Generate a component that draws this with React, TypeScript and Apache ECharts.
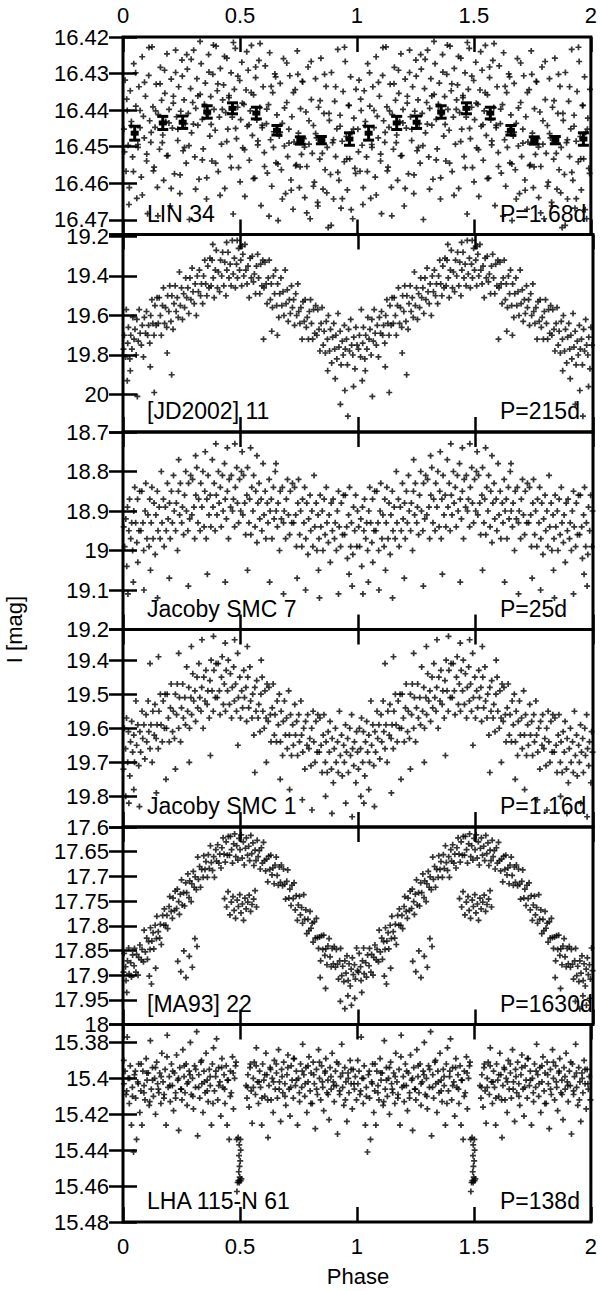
import React, { useEffect, useRef } from 'react';
import * as echarts from 'echarts';

const FONT = '"Liberation Sans", Arial, Helvetica, sans-serif';

const starNames = ['LIN 34', '[JD2002] 11', 'Jacoby SMC 7', 'Jacoby SMC 1', '[MA93] 22', 'LHA 115-N 61'];
const periods = ['P=1.68d', 'P=215d', 'P=25d', 'P=1.16d', 'P=1630d', 'P=138d'];
const magMin = [16.42, 19.19, 18.7, 19.31, 17.6, 15.37];
const magMax = [16.474, 20.19, 19.2, 19.89, 18.0, 15.48];
const magInterval: (number | null)[] = [0.01, null, 0.1, null, 0.05, null];
const magSplit = [5, 5, 5, 6, 8, 5];
const showMinLabel = [true, false, true, false, true, false];
const showMaxLabel = [false, false, true, false, true, true];
const phaseTicks = [0, 0.5, 1, 1.5, 2];

// LIN 34 (phase, I mag) for one cycle
const lin34: [number, number][] = [
[0.004,16.4452],[0.009,16.4318],[0.013,16.4567],[0.018,16.4401],[0.022,16.4496],[0.027,16.4612],[0.031,16.4347],[0.036,16.4431],[0.041,16.4528],[0.046,16.4273],
[0.050,16.4465],[0.055,16.4389],[0.059,16.4641],[0.064,16.4502],[0.068,16.4336],[0.073,16.4448],[0.078,16.4583],[0.082,16.4254],[0.087,16.4417],[0.091,16.4476],
[0.096,16.4362],[0.101,16.4539],[0.105,16.4683],[0.110,16.4305],[0.114,16.4429],[0.119,16.4488],[0.124,16.4227],[0.128,16.4391],[0.133,16.4556],[0.137,16.4447],
[0.142,16.4329],[0.147,16.4611],[0.151,16.4412],[0.156,16.4507],[0.160,16.4283],[0.165,16.4373],[0.170,16.4468],[0.174,16.4592],[0.179,16.4354],[0.183,16.4431],
[0.188,16.4246],[0.192,16.4524],[0.197,16.4398],[0.202,16.4662],[0.206,16.4315],[0.211,16.4449],[0.215,16.4381],[0.220,16.4574],[0.225,16.4297],[0.229,16.4418],
[0.234,16.4483],[0.238,16.4336],[0.243,16.4628],[0.247,16.4403],[0.252,16.4263],[0.257,16.4511],[0.261,16.4372],[0.266,16.4437],[0.270,16.4545],[0.275,16.4288],
[0.279,16.4409],[0.284,16.4699],[0.289,16.4341],[0.293,16.4462],[0.298,16.4379],[0.302,16.4236],[0.307,16.4528],[0.311,16.4395],[0.316,16.4314],[0.320,16.4441],
[0.325,16.4589],[0.330,16.4357],[0.334,16.4273],[0.339,16.4425],[0.343,16.4506],[0.348,16.4384],[0.352,16.4326],[0.357,16.4643],[0.362,16.4412],[0.366,16.4248],
[0.371,16.4471],[0.375,16.4363],[0.380,16.4539],[0.384,16.4302],[0.389,16.4398],[0.394,16.4455],[0.398,16.4225],[0.403,16.4347],[0.407,16.4568],[0.412,16.4419],
[0.416,16.4286],[0.421,16.4493],[0.426,16.4372],[0.430,16.4331],[0.435,16.4614],[0.439,16.4407],[0.444,16.4258],[0.448,16.4452],[0.453,16.4366],[0.458,16.4527],
[0.462,16.4298],[0.467,16.4419],[0.471,16.4684],[0.476,16.4343],[0.480,16.4231],[0.485,16.4478],[0.490,16.4392],[0.494,16.4557],[0.499,16.4319],[0.503,16.4426],
[0.508,16.4269],[0.512,16.4503],[0.517,16.4384],[0.521,16.4636],[0.526,16.4345],[0.531,16.4444],[0.535,16.4291],[0.540,16.4537],[0.544,16.4402],[0.549,16.4223],
[0.553,16.4469],[0.558,16.4358],[0.563,16.4586],[0.567,16.4311],[0.572,16.4427],[0.576,16.4495],[0.581,16.4264],[0.585,16.4393],[0.590,16.4661],[0.595,16.4448],
[0.599,16.4336],[0.604,16.4516],[0.608,16.4279],[0.613,16.4437],[0.617,16.4572],[0.622,16.4385],[0.627,16.4243],[0.631,16.4481],[0.636,16.4608],[0.640,16.4352],
[0.645,16.4459],[0.649,16.4301],[0.654,16.4544],[0.658,16.4413],[0.663,16.4702],[0.668,16.4471],[0.672,16.4327],[0.677,16.4563],[0.681,16.4436],[0.686,16.4259],
[0.690,16.4498],[0.695,16.4628],[0.700,16.4379],[0.704,16.4527],[0.709,16.4452],[0.713,16.4306],[0.718,16.4591],[0.722,16.4418],[0.727,16.4671],[0.731,16.4487],
[0.736,16.4344],[0.741,16.4549],[0.745,16.4238],[0.750,16.4463],[0.754,16.4612],[0.759,16.4396],[0.763,16.4521],[0.768,16.4323],[0.773,16.4478],[0.777,16.4639],
[0.782,16.4405],[0.786,16.4554],[0.791,16.4282],[0.795,16.4493],[0.800,16.4697],[0.805,16.4371],[0.809,16.4518],[0.814,16.4442],[0.818,16.4597],[0.823,16.4314],
[0.827,16.4476],[0.832,16.4652],[0.836,16.4392],[0.841,16.4534],[0.846,16.4258],[0.850,16.4487],[0.855,16.4616],[0.859,16.4409],[0.864,16.4563],[0.868,16.4335],
[0.873,16.4502],[0.877,16.4721],[0.882,16.4428],[0.887,16.4576],[0.891,16.4297],[0.896,16.4489],[0.900,16.4643],[0.905,16.4376],[0.909,16.4527],[0.914,16.4451],
[0.918,16.4234],[0.923,16.4592],[0.928,16.4414],[0.932,16.4668],[0.937,16.4485],[0.941,16.4349],[0.946,16.4541],[0.950,16.4267],[0.955,16.4472],[0.959,16.4618],
[0.964,16.4387],[0.969,16.4533],[0.973,16.4309],[0.978,16.4461],[0.982,16.4697],[0.987,16.4422],[0.991,16.4559],[0.996,16.4343],
[0.0065,16.4514],[0.0160,16.4370],[0.0255,16.4658],[0.0350,16.4442],[0.0445,16.4568],[0.0540,16.4298],[0.0635,16.4494],[0.0730,16.4401],[0.0825,16.4632],[0.0920,16.4324],
[0.1015,16.4520],[0.1110,16.4229],[0.1205,16.4461],[0.1300,16.4566],[0.1395,16.4402],[0.1490,16.4689],[0.1585,16.4328],[0.1680,16.4489],[0.1775,16.4291],[0.1870,16.4525],
[0.1965,16.4435],[0.2060,16.4614],[0.2155,16.4362],[0.2250,16.4236],[0.2345,16.4452],[0.2440,16.4577],[0.2535,16.4307],[0.2630,16.4502],[0.2725,16.4248],[0.2820,16.4497],
[0.2915,16.4261],[0.3010,16.4438],[0.3105,16.4616],[0.3200,16.4361],[0.3295,16.4212],[0.3390,16.4536],[0.3485,16.4390],[0.3580,16.4585],[0.3675,16.4296],[0.3770,16.4439],
[0.3865,16.4222],[0.3960,16.4545],[0.4055,16.4328],[0.4150,16.4633],[0.4245,16.4398],[0.4340,16.4253],[0.4435,16.4486],[0.4530,16.4360],[0.4625,16.4557],[0.4720,16.4215],
[0.4815,16.4450],[0.4910,16.4307],[0.5005,16.4596],[0.5100,16.4381],[0.5195,16.4508],[0.5290,16.4240],[0.5385,16.4440],[0.5480,16.4352],[0.5575,16.4587],[0.5670,16.4282],
[0.5765,16.4484],[0.5860,16.4218],[0.5955,16.4441],[0.6050,16.4554],[0.6145,16.4397],[0.6240,16.4690],[0.6335,16.4335],[0.6430,16.4502],[0.6525,16.4309],[0.6620,16.4547],
[0.6715,16.4460],[0.6810,16.4643],[0.6905,16.4394],[0.7000,16.4271],[0.7095,16.4490],[0.7190,16.4619],[0.7285,16.4352],[0.7380,16.4552],[0.7475,16.4302],[0.7570,16.4555],
[0.7665,16.4321],[0.7760,16.4501],[0.7855,16.4681],[0.7950,16.4429],[0.8045,16.4267],[0.8140,16.4608],[0.8235,16.4464],[0.8330,16.4662],[0.8425,16.4374],[0.8520,16.4518],
[0.8615,16.4302],[0.8710,16.4626],[0.8805,16.4409],[0.8900,16.4715],[0.8995,16.4481],[0.9090,16.4336],[0.9185,16.4570],[0.9280,16.4444],[0.9375,16.4642],[0.9470,16.4228],
[0.9565,16.4533],[0.9660,16.4387],[0.9755,16.4672],[0.9850,16.4452],[0.9945,16.4573]
];

// LIN 34 binned means: phase, mean mag, error
const lin34BinPhase = [0.05, 0.17, 0.255, 0.36, 0.468, 0.57, 0.658, 0.758, 0.848, 0.968];
const lin34BinMag = [16.4463, 16.4435, 16.4433, 16.4405, 16.4395, 16.4408, 16.4455, 16.4483, 16.4482, 16.4479];
const lin34BinErr = [0.0019, 0.0018, 0.0017, 0.0017, 0.0015, 0.0016, 0.0013, 0.0010, 0.0010, 0.0017];

const jd2002_11: [number, number][] = [
[0.002,19.77],[0.006,19.70],[0.011,19.81],[0.014,19.57],[0.020,19.74],[0.023,19.66],[0.029,19.82],[0.033,19.70],[0.038,19.77],[0.042,19.61],
[0.047,19.72],[0.051,19.67],[0.056,19.80],[0.059,19.62],[0.065,19.73],[0.069,19.57],[0.073,19.69],[0.078,19.75],[0.082,19.65],[0.087,19.81],
[0.091,19.61],[0.096,19.69],[0.100,19.58],[0.105,19.70],[0.109,19.65],[0.114,19.74],[0.118,19.60],[0.123,19.52],[0.127,19.64],[0.132,19.70],
[0.136,19.55],[0.141,19.65],[0.145,19.51],[0.150,19.64],[0.154,19.51],[0.159,19.60],[0.163,19.70],[0.168,19.55],[0.172,19.46],[0.177,19.64],
[0.181,19.56],[0.186,19.66],[0.190,19.50],[0.195,19.58],[0.199,19.45],[0.204,19.63],[0.208,19.50],[0.213,19.67],[0.217,19.54],[0.222,19.45],
[0.226,19.58],[0.231,19.51],[0.235,19.61],[0.240,19.38],[0.244,19.55],[0.249,19.46],[0.253,19.62],[0.258,19.49],[0.262,19.56],[0.267,19.41],
[0.271,19.51],[0.276,19.46],[0.280,19.59],[0.285,19.41],[0.289,19.52],[0.294,19.36],[0.298,19.48],[0.303,19.54],[0.307,19.44],[0.312,19.60],
[0.316,19.40],[0.321,19.48],[0.325,19.37],[0.330,19.50],[0.334,19.44],[0.339,19.54],[0.343,19.40],[0.348,19.32],[0.352,19.44],[0.357,19.50],
[0.361,19.35],[0.366,19.46],[0.370,19.31],[0.375,19.45],[0.379,19.32],[0.384,19.41],[0.388,19.51],[0.393,19.37],[0.397,19.27],[0.402,19.46],
[0.406,19.38],[0.411,19.48],[0.415,19.32],[0.420,19.40],[0.424,19.28],[0.429,19.45],[0.433,19.33],[0.438,19.50],[0.442,19.37],[0.447,19.28],
[0.451,19.41],[0.456,19.34],[0.460,19.45],[0.465,19.22],[0.469,19.39],[0.474,19.31],[0.478,19.46],[0.483,19.34],[0.487,19.41],[0.492,19.26],
[0.496,19.37],[0.501,19.32],[0.505,19.45],[0.510,19.29],[0.514,19.40],[0.519,19.24],[0.523,19.37],[0.528,19.44],[0.532,19.35],[0.537,19.51],
[0.541,19.31],[0.546,19.41],[0.550,19.30],[0.555,19.43],[0.559,19.39],[0.564,19.49],[0.568,19.35],[0.573,19.29],[0.577,19.41],[0.582,19.49],
[0.586,19.34],[0.591,19.45],[0.595,19.32],[0.600,19.46],[0.604,19.33],[0.609,19.44],[0.613,19.54],[0.618,19.41],[0.622,19.32],[0.627,19.52],
[0.631,19.44],[0.636,19.56],[0.640,19.40],[0.645,19.49],[0.649,19.37],[0.654,19.55],[0.658,19.44],[0.663,19.61],[0.667,19.49],[0.672,19.41],
[0.676,19.55],[0.681,19.48],[0.685,19.60],[0.690,19.37],[0.694,19.54],[0.699,19.47],[0.703,19.63],[0.708,19.52],[0.712,19.59],[0.717,19.45],
[0.721,19.56],[0.726,19.52],[0.730,19.65],[0.735,19.49],[0.739,19.60],[0.744,19.44],[0.748,19.58],[0.753,19.64],[0.757,19.56],[0.762,19.72],
[0.766,19.53],[0.771,19.63],[0.775,19.52],[0.780,19.66],[0.784,19.61],[0.789,19.72],[0.793,19.58],[0.798,19.52],[0.802,19.64],[0.807,19.72],
[0.811,19.57],[0.816,19.69],[0.820,19.55],[0.825,19.70],[0.829,19.57],[0.834,19.67],[0.838,19.78],[0.843,19.64],[0.847,19.56],[0.852,19.75],
[0.856,19.68],[0.861,19.79],[0.865,19.63],[0.870,19.72],[0.874,19.60],[0.879,19.78],[0.883,19.67],[0.888,19.84],[0.892,19.71],[0.897,19.64],
[0.901,19.77],[0.906,19.70],[0.910,19.82],[0.915,19.59],[0.919,19.76],[0.924,19.68],[0.928,19.85],[0.933,19.73],[0.937,19.80],[0.942,19.65],
[0.946,19.77],[0.951,19.72],[0.955,19.85],[0.960,19.67],[0.964,19.78],[0.969,19.62],[0.973,19.75],[0.978,19.80],[0.982,19.71],[0.987,19.87],
[0.991,19.66],[0.996,19.75],
[0.018,19.93],[0.061,20.01],[0.133,19.99],[0.207,19.90],[0.031,19.88],[0.116,19.86],[0.188,19.79],[0.598,19.72],[0.657,19.70],[0.633,19.68],
[0.925,20.05],[0.957,20.11],[0.981,19.96],[0.944,19.98],[0.903,19.92],[0.871,19.88],[0.382,19.24],[0.441,19.23],[0.507,19.25],[0.486,19.22]
];

const jacobySmc7: [number, number][] = [
[0.003,18.94],[0.007,18.99],[0.012,18.92],[0.016,19.04],[0.019,18.89],[0.025,18.95],[0.028,18.87],[0.033,18.97],[0.037,18.93],[0.041,19.00],
[0.046,18.90],[0.050,18.84],[0.054,18.93],[0.059,18.98],[0.062,18.87],[0.068,18.95],[0.071,18.85],[0.076,18.95],[0.080,18.85],[0.085,18.93],
[0.088,19.00],[0.094,18.90],[0.097,18.83],[0.102,18.97],[0.106,18.91],[0.111,18.99],[0.114,18.87],[0.120,18.93],[0.123,18.84],[0.128,18.97],
[0.132,18.88],[0.137,19.01],[0.140,18.91],[0.146,18.85],[0.149,18.95],[0.154,18.89],[0.158,18.97],[0.163,18.80],[0.166,18.93],[0.172,18.87],
[0.175,18.99],[0.180,18.89],[0.184,18.95],[0.189,18.83],[0.192,18.92],[0.198,18.88],[0.201,18.97],[0.206,18.85],[0.210,18.93],[0.215,18.81],
[0.218,18.90],[0.224,18.95],[0.227,18.88],[0.232,19.00],[0.236,18.85],[0.241,18.91],[0.244,18.83],[0.250,18.93],[0.253,18.89],[0.258,18.96],
[0.262,18.86],[0.267,18.80],[0.270,18.90],[0.276,18.95],[0.279,18.83],[0.284,18.92],[0.288,18.81],[0.293,18.91],[0.296,18.82],[0.302,18.89],
[0.305,18.97],[0.310,18.86],[0.314,18.79],[0.319,18.93],[0.322,18.87],[0.328,18.95],[0.331,18.83],[0.336,18.89],[0.340,18.80],[0.345,18.94],
[0.348,18.85],[0.354,18.97],[0.357,18.87],[0.362,18.81],[0.366,18.91],[0.371,18.86],[0.374,18.94],[0.380,18.77],[0.383,18.89],[0.388,18.83],
[0.392,18.95],[0.397,18.86],[0.400,18.91],[0.406,18.80],[0.409,18.88],[0.414,18.84],[0.418,18.94],[0.423,18.81],[0.426,18.90],[0.432,18.78],
[0.435,18.87],[0.440,18.92],[0.444,18.85],[0.449,18.97],[0.452,18.82],[0.458,18.89],[0.461,18.81],[0.466,18.90],[0.470,18.87],[0.475,18.94],
[0.478,18.84],[0.484,18.79],[0.487,18.88],[0.492,18.93],[0.496,18.82],[0.501,18.90],[0.504,18.80],[0.510,18.91],[0.513,18.81],[0.518,18.88],
[0.522,18.96],[0.527,18.86],[0.530,18.79],[0.536,18.93],[0.539,18.87],[0.544,18.96],[0.548,18.84],[0.553,18.90],[0.556,18.81],[0.562,18.94],
[0.565,18.85],[0.570,18.98],[0.574,18.88],[0.579,18.83],[0.582,18.92],[0.588,18.87],[0.591,18.95],[0.596,18.78],[0.600,18.91],[0.605,18.85],
[0.608,18.97],[0.614,18.88],[0.617,18.93],[0.622,18.82],[0.626,18.90],[0.631,18.87],[0.634,18.97],[0.640,18.84],[0.643,18.92],[0.648,18.80],
[0.652,18.90],[0.657,18.94],[0.660,18.88],[0.666,19.00],[0.669,18.85],[0.674,18.92],[0.678,18.84],[0.683,18.93],[0.686,18.90],[0.692,18.97],
[0.695,18.87],[0.700,18.82],[0.704,18.91],[0.709,18.96],[0.712,18.85],[0.718,18.93],[0.721,18.83],[0.726,18.93],[0.730,18.84],[0.735,18.91],
[0.738,18.99],[0.744,18.88],[0.747,18.82],[0.752,18.96],[0.756,18.90],[0.761,18.99],[0.764,18.87],[0.770,18.93],[0.773,18.84],[0.778,18.97],
[0.782,18.88],[0.787,19.01],[0.790,18.92],[0.796,18.86],[0.799,18.95],[0.804,18.90],[0.808,18.99],[0.813,18.81],[0.816,18.94],[0.822,18.88],
[0.825,19.00],[0.830,18.91],[0.834,18.97],[0.839,18.86],[0.842,18.94],[0.848,18.90],[0.851,19.00],[0.856,18.87],[0.860,18.96],[0.865,18.84],
[0.868,18.93],[0.874,18.98],[0.877,18.91],[0.882,19.03],[0.886,18.88],[0.891,18.95],[0.894,18.87],[0.900,18.97],[0.903,18.93],[0.908,19.00],
[0.912,18.90],[0.917,18.85],[0.920,18.94],[0.926,18.99],[0.929,18.88],[0.934,18.96],[0.938,18.86],[0.943,18.96],[0.946,18.86],[0.952,18.94],
[0.955,19.02],[0.960,18.91],[0.964,18.84],[0.969,18.99],[0.972,18.93],[0.978,19.01],[0.981,18.89],[0.986,18.95],[0.990,18.86],[0.995,18.99],
[0.998,18.90],
[0.021,19.11],[0.044,19.08],[0.089,19.10],[0.147,19.12],[0.197,19.07],[0.278,19.09],[0.359,19.06],[0.435,19.08],[0.530,19.05],[0.624,19.08],
[0.683,19.11],[0.741,19.07],[0.777,19.10],[0.836,19.12],[0.917,19.11],[0.975,19.09],[0.395,18.73],[0.444,18.74],[0.476,18.73],[0.507,18.75],
[0.543,18.74],[0.350,18.75],[0.309,18.76],[0.570,18.76],[0.237,18.77],[0.651,18.78],[0.063,19.03],[0.117,19.05],[0.832,19.05],[0.962,19.06]
];

const jacobySmc1: [number, number][] = [
[0.002,19.72],[0.006,19.60],[0.011,19.66],[0.015,19.57],[0.020,19.70],[0.023,19.61],[0.029,19.74],[0.032,19.64],[0.037,19.58],[0.041,19.67],
[0.046,19.62],[0.049,19.70],[0.055,19.52],[0.058,19.65],[0.063,19.59],[0.067,19.71],[0.072,19.61],[0.075,19.67],[0.081,19.55],[0.084,19.63],
[0.089,19.59],[0.093,19.69],[0.098,19.56],[0.101,19.64],[0.107,19.52],[0.110,19.61],[0.115,19.66],[0.119,19.59],[0.124,19.70],[0.127,19.55],
[0.133,19.62],[0.136,19.53],[0.141,19.63],[0.145,19.59],[0.150,19.66],[0.153,19.55],[0.159,19.50],[0.162,19.59],[0.167,19.64],[0.171,19.52],
[0.176,19.60],[0.179,19.50],[0.185,19.60],[0.188,19.50],[0.193,19.57],[0.197,19.64],[0.202,19.54],[0.205,19.47],[0.211,19.61],[0.214,19.55],
[0.219,19.63],[0.223,19.50],[0.228,19.56],[0.231,19.47],[0.237,19.60],[0.240,19.51],[0.245,19.64],[0.249,19.54],[0.254,19.47],[0.257,19.57],
[0.263,19.51],[0.266,19.59],[0.271,19.42],[0.275,19.55],[0.280,19.48],[0.283,19.60],[0.289,19.51],[0.292,19.56],[0.297,19.44],[0.301,19.52],
[0.306,19.49],[0.309,19.58],[0.315,19.45],[0.318,19.54],[0.323,19.41],[0.327,19.51],[0.332,19.55],[0.335,19.48],[0.341,19.60],[0.344,19.45],
[0.349,19.52],[0.353,19.43],[0.358,19.53],[0.361,19.49],[0.367,19.57],[0.370,19.46],[0.375,19.40],[0.379,19.49],[0.384,19.55],[0.387,19.43],
[0.393,19.51],[0.396,19.41],[0.401,19.51],[0.405,19.41],[0.410,19.49],[0.413,19.56],[0.419,19.45],[0.422,19.39],[0.427,19.53],[0.431,19.47],
[0.436,19.55],[0.439,19.43],[0.445,19.49],[0.448,19.40],[0.453,19.53],[0.457,19.44],[0.462,19.57],[0.465,19.48],[0.471,19.42],[0.474,19.52],
[0.479,19.47],[0.483,19.55],[0.488,19.38],[0.491,19.51],[0.497,19.45],[0.500,19.57],[0.505,19.49],[0.509,19.54],[0.514,19.43],[0.517,19.51],
[0.523,19.48],[0.526,19.58],[0.531,19.45],[0.535,19.54],[0.540,19.42],[0.543,19.52],[0.549,19.57],[0.552,19.50],[0.557,19.62],[0.561,19.48],
[0.566,19.55],[0.569,19.46],[0.575,19.57],[0.578,19.53],[0.583,19.61],[0.587,19.50],[0.592,19.45],[0.595,19.55],[0.601,19.60],[0.604,19.49],
[0.609,19.57],[0.613,19.47],[0.618,19.58],[0.621,19.48],[0.627,19.56],[0.630,19.64],[0.635,19.54],[0.639,19.47],[0.644,19.62],[0.647,19.56],
[0.653,19.64],[0.656,19.52],[0.661,19.59],[0.665,19.50],[0.670,19.64],[0.673,19.55],[0.679,19.68],[0.682,19.58],[0.687,19.52],[0.691,19.62],
[0.696,19.57],[0.699,19.66],[0.705,19.49],[0.708,19.62],[0.713,19.56],[0.717,19.68],[0.722,19.59],[0.725,19.65],[0.731,19.53],[0.734,19.62],
[0.739,19.58],[0.743,19.68],[0.748,19.56],[0.751,19.64],[0.757,19.52],[0.760,19.62],[0.765,19.67],[0.769,19.60],[0.774,19.72],[0.777,19.58],
[0.783,19.65],[0.786,19.56],[0.791,19.66],[0.795,19.63],[0.800,19.71],[0.803,19.60],[0.809,19.55],[0.812,19.64],[0.817,19.70],[0.821,19.58],
[0.826,19.67],[0.829,19.56],[0.835,19.67],[0.838,19.57],[0.843,19.65],[0.847,19.73],[0.852,19.62],[0.855,19.56],[0.861,19.70],[0.864,19.64],
[0.869,19.73],[0.873,19.61],[0.878,19.67],[0.881,19.58],[0.887,19.72],[0.890,19.63],[0.895,19.76],[0.899,19.66],[0.904,19.60],[0.907,19.70],
[0.913,19.64],[0.916,19.73],[0.921,19.55],[0.925,19.68],[0.930,19.62],[0.933,19.74],[0.939,19.65],[0.942,19.70],[0.947,19.59],[0.951,19.67],
[0.956,19.63],[0.959,19.73],[0.965,19.60],[0.968,19.68],[0.973,19.56],[0.977,19.66],[0.982,19.71],[0.985,19.64],[0.991,19.76],[0.994,19.61],
[0.998,19.67],
[0.025,19.82],[0.070,19.83],[0.142,19.79],[0.183,19.75],[0.223,19.72],[0.282,19.70],[0.372,19.68],[0.489,19.65],[0.561,19.73],[0.610,19.70],
[0.669,19.75],[0.709,19.78],[0.763,19.81],[0.804,19.84],[0.862,19.80],[0.889,19.85],[0.948,19.82],[0.975,19.86],[0.115,19.41],[0.151,19.39],
[0.237,19.38],[0.291,19.36],[0.336,19.34],[0.385,19.33],[0.435,19.35],[0.475,19.34],[0.529,19.36],[0.588,19.40],[0.012,19.80],[0.046,19.78]
];

const ma93_22: [number, number][] = [
[0.002,17.894],[0.005,17.856],[0.011,17.883],[0.013,17.911],[0.019,17.871],[0.024,17.845],[0.026,17.897],[0.033,17.875],[0.036,17.904],[0.041,17.859],
[0.047,17.881],[0.049,17.846],[0.055,17.894],[0.058,17.858],[0.064,17.900],[0.067,17.864],[0.072,17.839],[0.078,17.869],[0.081,17.848],[0.087,17.873],
[0.090,17.809],[0.095,17.853],[0.101,17.825],[0.104,17.868],[0.109,17.832],[0.115,17.848],[0.117,17.804],[0.123,17.831],[0.128,17.814],[0.131,17.847],
[0.137,17.799],[0.142,17.826],[0.144,17.781],[0.150,17.812],[0.156,17.825],[0.159,17.797],[0.163,17.838],[0.169,17.779],[0.174,17.799],[0.176,17.766],
[0.182,17.799],[0.187,17.779],[0.190,17.806],[0.196,17.761],[0.199,17.741],[0.205,17.771],[0.210,17.785],[0.213,17.744],[0.219,17.769],[0.222,17.730],
[0.228,17.765],[0.231,17.726],[0.237,17.751],[0.240,17.777],[0.244,17.736],[0.249,17.707],[0.252,17.758],[0.258,17.733],[0.262,17.760],[0.267,17.713],
[0.271,17.733],[0.276,17.695],[0.281,17.743],[0.284,17.709],[0.290,17.751],[0.293,17.715],[0.299,17.690],[0.303,17.722],[0.307,17.701],[0.312,17.727],
[0.318,17.661],[0.321,17.706],[0.326,17.680],[0.330,17.722],[0.335,17.686],[0.341,17.702],[0.344,17.658],[0.349,17.686],[0.353,17.670],[0.359,17.702],
[0.363,17.656],[0.367,17.684],[0.372,17.638],[0.376,17.672],[0.381,17.688],[0.386,17.660],[0.389,17.702],[0.395,17.646],[0.398,17.669],[0.403,17.636],
[0.408,17.673],[0.412,17.655],[0.417,17.683],[0.421,17.642],[0.426,17.622],[0.430,17.655],[0.435,17.671],[0.439,17.630],[0.444,17.657],[0.448,17.619],
[0.453,17.657],[0.457,17.619],[0.462,17.646],[0.466,17.673],[0.471,17.634],[0.475,17.614],[0.480,17.660],[0.484,17.638],[0.489,17.667],[0.494,17.623],
[0.498,17.646],[0.503,17.616],[0.507,17.663],[0.512,17.630],[0.516,17.677],[0.521,17.643],[0.525,17.622],[0.530,17.657],[0.535,17.639],[0.539,17.668],
[0.544,17.617],[0.548,17.654],[0.553,17.632],[0.557,17.678],[0.562,17.647],[0.566,17.668],[0.571,17.627],[0.575,17.660],[0.580,17.648],[0.584,17.685],
[0.589,17.642],[0.593,17.673],[0.598,17.631],[0.602,17.668],[0.607,17.689],[0.611,17.665],[0.616,17.711],[0.620,17.659],[0.625,17.686],[0.629,17.657],
[0.634,17.697],[0.638,17.683],[0.643,17.715],[0.647,17.677],[0.652,17.661],[0.656,17.698],[0.661,17.718],[0.665,17.681],[0.670,17.712],[0.674,17.677],
[0.679,17.719],[0.683,17.685],[0.688,17.716],[0.692,17.746],[0.697,17.710],[0.701,17.687],[0.706,17.744],[0.710,17.726],[0.715,17.759],[0.719,17.718],
[0.724,17.745],[0.728,17.713],[0.733,17.768],[0.737,17.739],[0.742,17.789],[0.746,17.758],[0.751,17.740],[0.755,17.778],[0.760,17.763],[0.764,17.795],
[0.769,17.737],[0.773,17.787],[0.778,17.768],[0.782,17.816],[0.787,17.787],[0.791,17.810],[0.796,17.771],[0.800,17.805],[0.805,17.795],[0.809,17.833],
[0.814,17.792],[0.818,17.825],[0.823,17.785],[0.827,17.824],[0.832,17.846],[0.836,17.823],[0.841,17.871],[0.845,17.820],[0.850,17.848],[0.854,17.819],
[0.859,17.860],[0.863,17.847],[0.868,17.879],[0.872,17.841],[0.877,17.826],[0.881,17.863],[0.886,17.883],[0.890,17.846],[0.895,17.877],[0.899,17.842],
[0.904,17.884],[0.908,17.848],[0.913,17.878],[0.917,17.908],[0.922,17.871],[0.926,17.846],[0.931,17.901],[0.935,17.882],[0.940,17.913],[0.944,17.871],
[0.949,17.896],[0.953,17.861],[0.958,17.911],[0.962,17.877],[0.967,17.922],[0.971,17.888],[0.976,17.865],[0.980,17.899],[0.985,17.879],[0.989,17.908],
[0.994,17.845],[0.998,17.891],
[0.432,17.745],[0.441,17.762],[0.447,17.731],[0.455,17.778],[0.461,17.752],[0.468,17.741],[0.473,17.769],[0.479,17.785],[0.486,17.748],[0.491,17.761],
[0.497,17.737],[0.502,17.774],[0.508,17.756],[0.513,17.789],[0.519,17.744],[0.524,17.766],[0.531,17.752],[0.537,17.738],[0.543,17.771],[0.549,17.757],
[0.556,17.746],[0.562,17.729],[0.568,17.762],
[0.233,17.872],[0.246,17.893],[0.259,17.851],[0.268,17.905],[0.282,17.862],[0.295,17.884],[0.306,17.826],[0.315,17.842],
[0.925,17.953],[0.944,17.968],[0.957,17.942],[0.972,17.961],[0.986,17.947],[0.016,17.935],[0.839,17.905],[0.862,17.927],
[0.112,17.902],[0.139,17.886],[0.121,17.918]
];

const lha115n61: [number, number][] = [
[0.004,15.403],[0.009,15.396],[0.013,15.409],[0.018,15.377],[0.022,15.400],[0.027,15.414],[0.031,15.393],[0.036,15.426],[0.040,15.405],[0.045,15.441],
[0.049,15.398],[0.054,15.411],[0.058,15.434],[0.063,15.402],[0.067,15.392],[0.072,15.419],[0.076,15.407],[0.081,15.426],[0.085,15.396],[0.090,15.404],
[0.094,15.412],[0.099,15.389],[0.103,15.401],[0.108,15.397],[0.112,15.415],[0.117,15.379],[0.121,15.406],[0.126,15.394],[0.130,15.410],[0.135,15.400],
[0.139,15.420],[0.144,15.391],[0.148,15.403],[0.153,15.408],[0.157,15.397],[0.162,15.414],[0.166,15.386],[0.171,15.402],[0.175,15.411],[0.180,15.395],
[0.184,15.426],[0.189,15.376],[0.193,15.405],[0.198,15.399],[0.202,15.413],[0.207,15.392],[0.211,15.404],[0.216,15.418],[0.220,15.397],[0.225,15.408],
[0.229,15.387],[0.234,15.401],[0.238,15.429],[0.243,15.394],[0.247,15.406],[0.252,15.412],[0.256,15.384],[0.261,15.399],[0.265,15.408],[0.270,15.392],
[0.274,15.415],[0.279,15.402],[0.283,15.396],[0.288,15.380],[0.292,15.409],[0.297,15.400],[0.301,15.417],[0.306,15.393],[0.310,15.405],[0.315,15.374],
[0.319,15.432],[0.324,15.398],[0.328,15.411],[0.333,15.391],[0.337,15.403],[0.342,15.419],[0.346,15.396],[0.351,15.408],[0.355,15.386],[0.360,15.401],
[0.364,15.413],[0.369,15.395],[0.373,15.404],[0.378,15.426],[0.382,15.392],[0.387,15.383],[0.391,15.407],[0.396,15.399],[0.400,15.378],[0.405,15.412],
[0.409,15.394],[0.414,15.402],[0.418,15.421],[0.423,15.389],[0.427,15.405],[0.432,15.398],[0.436,15.414],[0.441,15.393],[0.445,15.426],[0.450,15.401],
[0.454,15.434],[0.459,15.396],[0.463,15.408],[0.468,15.388],[0.472,15.417],[0.477,15.400],[0.481,15.393],[0.486,15.434],
[0.492,15.433],[0.502,15.434],[0.497,15.437],[0.503,15.440],[0.496,15.443],[0.501,15.446],[0.498,15.449],[0.495,15.452],[0.499,15.455],[0.493,15.457],
[0.497,15.458],[0.503,15.457],[0.506,15.456],[0.490,15.458],[0.487,15.463],
[0.526,15.404],[0.530,15.411],[0.534,15.398],[0.539,15.416],[0.543,15.394],[0.548,15.407],[0.552,15.425],[0.557,15.400],[0.561,15.391],[0.566,15.409],
[0.570,15.383],[0.575,15.402],[0.579,15.414],[0.584,15.396],[0.588,15.405],[0.593,15.426],[0.597,15.392],[0.602,15.401],[0.606,15.410],[0.611,15.386],
[0.615,15.398],[0.620,15.433],[0.624,15.404],[0.629,15.394],[0.633,15.412],[0.638,15.400],[0.642,15.419],[0.647,15.390],[0.651,15.406],[0.656,15.397],
[0.660,15.411],[0.665,15.384],[0.669,15.402],[0.674,15.424],[0.678,15.395],[0.683,15.408],[0.687,15.391],[0.692,15.403],[0.696,15.415],[0.701,15.398],
[0.705,15.387],[0.710,15.406],[0.714,15.421],[0.719,15.393],[0.723,15.401],[0.728,15.411],[0.732,15.389],[0.737,15.404],[0.741,15.396],[0.746,15.426],
[0.750,15.400],[0.755,15.413],[0.759,15.392],[0.764,15.405],[0.768,15.381],[0.773,15.398],[0.777,15.410],[0.782,15.394],[0.786,15.419],[0.791,15.402],
[0.795,15.388],[0.800,15.407],[0.804,15.397],[0.809,15.414],[0.813,15.391],[0.818,15.403],[0.822,15.428],[0.827,15.395],[0.831,15.409],[0.836,15.384],
[0.840,15.400],[0.845,15.412],[0.849,15.393],[0.854,15.405],[0.858,15.418],[0.863,15.397],[0.867,15.389],[0.872,15.408],[0.876,15.401],[0.881,15.423],
[0.885,15.394],[0.890,15.406],[0.894,15.386],[0.899,15.402],[0.903,15.413],[0.908,15.396],[0.912,15.404],[0.917,15.431],[0.921,15.392],[0.926,15.409],
[0.930,15.399],[0.935,15.381],[0.939,15.405],[0.944,15.415],[0.948,15.394],[0.953,15.402],[0.957,15.424],[0.962,15.397],[0.966,15.408],[0.971,15.390],
[0.975,15.403],[0.980,15.417],[0.984,15.395],[0.989,15.406],[0.993,15.399],[0.998,15.412],
[0.0035,15.390],[0.0158,15.407],[0.0281,15.400],[0.0404,15.410],[0.0527,15.396],[0.0650,15.403],[0.0773,15.392],[0.0896,15.408],[0.1019,15.397],[0.1142,15.413],
[0.1265,15.401],[0.1388,15.394],[0.1511,15.406],[0.1634,15.399],[0.1757,15.409],[0.1880,15.388],[0.2003,15.404],[0.2126,15.396],[0.2249,15.411],[0.2372,15.400],
[0.2495,15.406],[0.2618,15.393],[0.2741,15.403],[0.2864,15.398],[0.2987,15.410],[0.3110,15.395],[0.3233,15.405],[0.3356,15.390],[0.3479,15.402],[0.3602,15.407],
[0.3725,15.399],[0.3848,15.414],[0.3971,15.396],[0.4094,15.404],[0.4217,15.394],[0.4340,15.406],[0.4463,15.401],[0.4586,15.410],[0.4709,15.397],[0.4832,15.391],
[0.5324,15.405],[0.5447,15.392],[0.5570,15.405],[0.5693,15.393],[0.5816,15.402],[0.5939,15.411],[0.6062,15.398],[0.6185,15.412],[0.6308,15.395],[0.6431,15.402],
[0.6554,15.392],[0.6677,15.406],[0.6800,15.399],[0.6923,15.410],[0.7046,15.394],[0.7169,15.405],[0.7292,15.389],[0.7415,15.401],[0.7538,15.408],[0.7661,15.396],
[0.7784,15.403],[0.7907,15.393],[0.8030,15.414],[0.8153,15.398],[0.8276,15.406],[0.8399,15.391],[0.8522,15.402],[0.8645,15.396],[0.8768,15.409],[0.8891,15.399],
[0.9014,15.404],[0.9137,15.391],[0.9260,15.407],[0.9383,15.397],[0.9506,15.412],[0.9629,15.400],[0.9752,15.395],[0.9875,15.403]
];

const panelData = [lin34, jd2002_11, jacobySmc7, jacobySmc1, ma93_22, lha115n61];

// layout (pixels)
const LEFT = 123;
const WIDTH = 470;
const TOP = 37;
const PANEL_H = 197.5;

const PLUS = 'path://M0,1.8H5V3.2H0Z M1.8,0H3.2V5H1.8Z';

// phase-folded curves are plotted over two cycles
function twoCycles(d: [number, number][]): [number, number][] {
  return d.concat(d.map(([p, m]) => [p + 1, m] as [number, number]));
}

function buildOption() {
  const grid: any[] = [];
  const xAxis: any[] = [];
  const yAxis: any[] = [];
  const series: any[] = [];
  const graphic: any[] = [];
  const tickStyle = { color: '#000', width: 2.5 };
  const labelBase = { color: '#000', fontFamily: FONT, fontSize: 22 };

  for (let i = 0; i < 6; i++) {
    const top = TOP + i * PANEL_H;
    grid.push({ left: LEFT, width: WIDTH, top, height: PANEL_H, show: true, borderColor: '#000', borderWidth: 3, backgroundColor: 'transparent' });
    for (const pos of ['bottom', 'top']) {
      xAxis.push({
        gridIndex: i, type: 'value', position: pos, min: phaseTicks[0], max: phaseTicks[phaseTicks.length - 1], interval: 0.5,
        axisLine: { show: false },
        axisTick: { show: true, inside: true, length: 15, lineStyle: tickStyle },
        axisLabel: { ...labelBase, show: (pos === 'bottom' && i === 5) || (pos === 'top' && i === 0), margin: pos === 'top' ? 11 : 13 },
        splitLine: { show: false },
      });
    }
    for (const pos of ['left', 'right']) {
      const y: any = {
        gridIndex: i, type: 'value', position: pos, inverse: true, min: magMin[i], max: magMax[i],
        axisLine: { show: false },
        axisTick: { show: true, inside: true, length: 14, lineStyle: tickStyle },
        axisLabel: { ...labelBase, show: pos === 'left', margin: 14, showMinLabel: showMinLabel[i], showMaxLabel: showMaxLabel[i] },
        splitLine: { show: false },
      };
      if (magInterval[i] != null) y.interval = magInterval[i];
      else y.splitNumber = magSplit[i];
      yAxis.push(y);
    }
    series.push({
      type: 'scatter', xAxisIndex: 2 * i, yAxisIndex: 2 * i, data: twoCycles(panelData[i]),
      symbol: PLUS, symbolSize: 6, itemStyle: { color: '#000' }, silent: true,
    });
    const bottom = top + PANEL_H;
    graphic.push({ type: 'text', x: 147, y: bottom - 21, z: 100, style: { text: starNames[i], fill: '#000', font: `23px ${FONT}`, align: 'left', verticalAlign: 'middle' } });
    graphic.push({ type: 'text', x: 500, y: bottom - 21, z: 100, style: { text: periods[i], fill: '#000', font: `23px ${FONT}`, align: 'left', verticalAlign: 'middle' } });
  }

  const bins: [number, number, number][] = [];
  for (let c = 0; c < 2; c++) {
    lin34BinPhase.forEach((p, k) => bins.push([p + c, lin34BinMag[k], lin34BinErr[k]]));
  }
  series.push({
    type: 'custom', xAxisIndex: 0, yAxisIndex: 0, data: bins, silent: true, z: 5,
    renderItem: (params: any, api: any) => {
      const x = api.value(0), m = api.value(1), e = api.value(2);
      const c = api.coord([x, m]);
      const a = api.coord([x, m - e]);
      const b = api.coord([x, m + e]);
      const st = { stroke: '#000', lineWidth: 3 };
      return {
        type: 'group',
        children: [
          { type: 'line', shape: { x1: c[0], y1: a[1], x2: c[0], y2: b[1] }, style: st },
          { type: 'line', shape: { x1: c[0] - 5.5, y1: a[1], x2: c[0] + 5.5, y2: a[1] }, style: st },
          { type: 'line', shape: { x1: c[0] - 5.5, y1: b[1], x2: c[0] + 5.5, y2: b[1] }, style: st },
          { type: 'rect', shape: { x: c[0] - 4, y: c[1] - 2.5, width: 8, height: 5 }, style: { fill: '#000' } },
        ],
      };
    },
  });

  graphic.push({ type: 'text', x: 14, y: TOP + 3 * PANEL_H, rotation: Math.PI / 2, style: { text: 'I [mag]', fill: '#000', font: `22px ${FONT}`, align: 'center', verticalAlign: 'middle' } });
  graphic.push({ type: 'text', x: LEFT + WIDTH / 2, y: 1276, style: { text: 'Phase', fill: '#000', font: `22px ${FONT}`, align: 'center', verticalAlign: 'middle' } });

  return { animation: false, backgroundColor: '#fff', grid, xAxis, yAxis, series, graphic };
}

export default function App() {
  const ref = useRef<HTMLDivElement>(null);
  useEffect(() => {
    document.body.style.margin = '0';
    const chart = echarts.init(ref.current!, undefined, { renderer: 'svg' });
    chart.setOption(buildOption() as any);
    return () => chart.dispose();
  }, []);
  return <div ref={ref} style={{ width: 600, height: 1291 }} />;
}
